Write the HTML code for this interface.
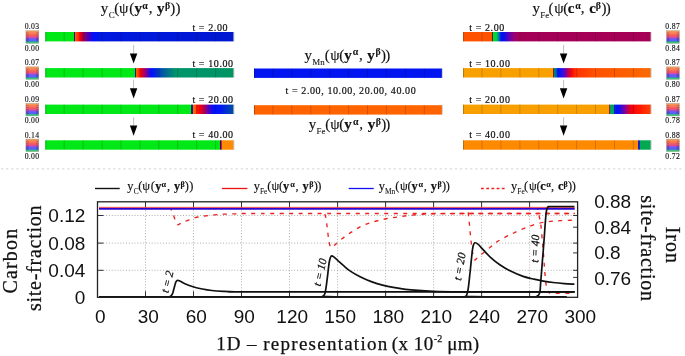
<!DOCTYPE html>
<html><head><meta charset="utf-8">
<style>
html,body{margin:0;padding:0;background:#fff;width:685px;height:356px;overflow:hidden}
svg{display:block;will-change:transform}
</style></head>
<body>

<svg width="685" height="356" viewBox="0 0 685 356">

<defs>
<linearGradient id="L0" gradientUnits="userSpaceOnUse" x1="45.3" y1="0" x2="233.6" y2="0"><stop offset="0.0000" stop-color="#00e816"/><stop offset="0.1529" stop-color="#00e816"/><stop offset="0.1535" stop-color="#1a1a9a"/><stop offset="0.1593" stop-color="#1a1a9a"/><stop offset="0.1599" stop-color="#ff5a00"/><stop offset="0.1747" stop-color="#ff3000"/><stop offset="0.1843" stop-color="#f00010"/><stop offset="0.1938" stop-color="#d00020"/><stop offset="0.2045" stop-color="#900060"/><stop offset="0.2268" stop-color="#5000b0"/><stop offset="0.2586" stop-color="#0010ff"/><stop offset="0.2905" stop-color="#0018e0"/><stop offset="1.0000" stop-color="#0018d0"/></linearGradient>
<linearGradient id="L1" gradientUnits="userSpaceOnUse" x1="45.3" y1="0" x2="233.6" y2="0"><stop offset="0.0000" stop-color="#00e816"/><stop offset="0.4764" stop-color="#00e816"/><stop offset="0.4769" stop-color="#1a1a9a"/><stop offset="0.4822" stop-color="#1a1a9a"/><stop offset="0.4827" stop-color="#ff6000"/><stop offset="0.4971" stop-color="#ff3000"/><stop offset="0.5082" stop-color="#f00010"/><stop offset="0.5189" stop-color="#c00040"/><stop offset="0.5401" stop-color="#7000a0"/><stop offset="0.5613" stop-color="#0010ff"/><stop offset="0.5810" stop-color="#0020e0"/><stop offset="0.6251" stop-color="#005aa0"/><stop offset="0.6941" stop-color="#00966a"/><stop offset="1.0000" stop-color="#009464"/></linearGradient>
<linearGradient id="L2" gradientUnits="userSpaceOnUse" x1="45.3" y1="0" x2="233.6" y2="0"><stop offset="0.0000" stop-color="#00e816"/><stop offset="0.7743" stop-color="#00e816"/><stop offset="0.7748" stop-color="#1a1a9a"/><stop offset="0.7823" stop-color="#1a1a9a"/><stop offset="0.7828" stop-color="#ff7000"/><stop offset="0.7977" stop-color="#ff5800"/><stop offset="0.8035" stop-color="#ff1a00"/><stop offset="0.8221" stop-color="#f00010"/><stop offset="0.8428" stop-color="#b00050"/><stop offset="0.8640" stop-color="#6000b0"/><stop offset="0.8922" stop-color="#0010ff"/><stop offset="0.9341" stop-color="#0018f0"/><stop offset="1.0000" stop-color="#0050a0"/></linearGradient>
<linearGradient id="L3" gradientUnits="userSpaceOnUse" x1="45.3" y1="0" x2="233.6" y2="0"><stop offset="0.0000" stop-color="#00e816"/><stop offset="0.9278" stop-color="#00e816"/><stop offset="0.9283" stop-color="#101090"/><stop offset="0.9331" stop-color="#101090"/><stop offset="0.9336" stop-color="#f01010"/><stop offset="0.9373" stop-color="#f01010"/><stop offset="0.9379" stop-color="#ff8c00"/><stop offset="1.0000" stop-color="#ff8800"/></linearGradient>
<linearGradient id="M1" gradientUnits="userSpaceOnUse" x1="254.0" y1="0" x2="442.0" y2="0"><stop offset="0.0000" stop-color="#0015f0"/><stop offset="1.0000" stop-color="#0015f0"/></linearGradient>
<linearGradient id="M2" gradientUnits="userSpaceOnUse" x1="254.0" y1="0" x2="442.0" y2="0"><stop offset="0.0000" stop-color="#ff6400"/><stop offset="1.0000" stop-color="#ff6400"/></linearGradient>
<linearGradient id="R0" gradientUnits="userSpaceOnUse" x1="463.1" y1="0" x2="650.8" y2="0"><stop offset="0.0000" stop-color="#ff5200"/><stop offset="0.1540" stop-color="#ff5200"/><stop offset="0.1545" stop-color="#502020"/><stop offset="0.1598" stop-color="#502020"/><stop offset="0.1604" stop-color="#00e020"/><stop offset="0.1785" stop-color="#00d040"/><stop offset="0.1913" stop-color="#0070c0"/><stop offset="0.2030" stop-color="#0010ff"/><stop offset="0.2142" stop-color="#0010f0"/><stop offset="0.2392" stop-color="#5000c0"/><stop offset="0.2658" stop-color="#900080"/><stop offset="0.2904" stop-color="#a50058"/><stop offset="1.0000" stop-color="#a50055"/></linearGradient>
<linearGradient id="R1" gradientUnits="userSpaceOnUse" x1="463.1" y1="0" x2="650.8" y2="0"><stop offset="0.0000" stop-color="#f8a000"/><stop offset="0.4774" stop-color="#f8a000"/><stop offset="0.4779" stop-color="#802020"/><stop offset="0.4832" stop-color="#802020"/><stop offset="0.4838" stop-color="#009070"/><stop offset="0.4997" stop-color="#0050c0"/><stop offset="0.5056" stop-color="#0010ff"/><stop offset="0.5242" stop-color="#2010f0"/><stop offset="0.5482" stop-color="#8000a0"/><stop offset="0.5733" stop-color="#f00010"/><stop offset="0.6004" stop-color="#ff3000"/><stop offset="0.7027" stop-color="#ff5000"/><stop offset="1.0000" stop-color="#fa6a00"/></linearGradient>
<linearGradient id="R2" gradientUnits="userSpaceOnUse" x1="463.1" y1="0" x2="650.8" y2="0"><stop offset="0.0000" stop-color="#f8a000"/><stop offset="0.7778" stop-color="#f8a000"/><stop offset="0.7784" stop-color="#c02020"/><stop offset="0.7848" stop-color="#3030a0"/><stop offset="0.7853" stop-color="#00a060"/><stop offset="0.8039" stop-color="#00a060"/><stop offset="0.8045" stop-color="#0030e0"/><stop offset="0.8199" stop-color="#0010ff"/><stop offset="0.8364" stop-color="#2010e0"/><stop offset="0.8625" stop-color="#8000a0"/><stop offset="0.8924" stop-color="#f00010"/><stop offset="0.9393" stop-color="#ff1800"/><stop offset="1.0000" stop-color="#ff4000"/></linearGradient>
<linearGradient id="R3" gradientUnits="userSpaceOnUse" x1="463.1" y1="0" x2="650.8" y2="0"><stop offset="0.0000" stop-color="#ff8a00"/><stop offset="0.9302" stop-color="#ff8a00"/><stop offset="0.9307" stop-color="#e02020"/><stop offset="0.9345" stop-color="#2020c0"/><stop offset="0.9414" stop-color="#2020c0"/><stop offset="0.9419" stop-color="#00a850"/><stop offset="1.0000" stop-color="#00a850"/></linearGradient>

<linearGradient id="cb" x1="0" y1="0" x2="0" y2="1">
<stop offset="0" stop-color="#f0a050"/><stop offset="0.12" stop-color="#f88c55"/><stop offset="0.25" stop-color="#fa735a"/>
<stop offset="0.38" stop-color="#f55a5f"/><stop offset="0.5" stop-color="#e1508c"/><stop offset="0.6" stop-color="#9650e1"/>
<stop offset="0.7" stop-color="#5f5afa"/><stop offset="0.8" stop-color="#5564f5"/><stop offset="0.85" stop-color="#3c8cbe"/>
<stop offset="0.9" stop-color="#3cbe78"/><stop offset="1" stop-color="#3cc864"/></linearGradient>

</defs>

<rect x="45.3" y="32.0" width="188.3" height="9.4" fill="url(#L0)"/>
<rect x="45.3" y="32.0" width="0.9" height="9.4" fill="#000" opacity="0.3"/>
<rect x="233.3" y="32.0" width="1.1" height="9.4" fill="#aaa" opacity="0.6"/>
<line x1="64.2" y1="32.0" x2="64.2" y2="41.4" stroke="#000" stroke-opacity="0.22" stroke-width="0.8"/>
<line x1="83.1" y1="32.0" x2="83.1" y2="41.4" stroke="#000" stroke-opacity="0.22" stroke-width="0.8"/>
<line x1="102.1" y1="32.0" x2="102.1" y2="41.4" stroke="#000" stroke-opacity="0.22" stroke-width="0.8"/>
<line x1="121.0" y1="32.0" x2="121.0" y2="41.4" stroke="#000" stroke-opacity="0.22" stroke-width="0.8"/>
<line x1="139.9" y1="32.0" x2="139.9" y2="41.4" stroke="#000" stroke-opacity="0.22" stroke-width="0.8"/>
<line x1="158.8" y1="32.0" x2="158.8" y2="41.4" stroke="#000" stroke-opacity="0.22" stroke-width="0.8"/>
<line x1="177.7" y1="32.0" x2="177.7" y2="41.4" stroke="#000" stroke-opacity="0.22" stroke-width="0.8"/>
<line x1="196.7" y1="32.0" x2="196.7" y2="41.4" stroke="#000" stroke-opacity="0.22" stroke-width="0.8"/>
<line x1="215.6" y1="32.0" x2="215.6" y2="41.4" stroke="#000" stroke-opacity="0.22" stroke-width="0.8"/>
<rect x="463.1" y="32.0" width="187.7" height="9.4" fill="url(#R0)"/>
<rect x="463.1" y="32.0" width="0.9" height="9.4" fill="#000" opacity="0.3"/>
<rect x="650.5" y="32.0" width="1.1" height="9.4" fill="#aaa" opacity="0.6"/>
<line x1="482.0" y1="32.0" x2="482.0" y2="41.4" stroke="#000" stroke-opacity="0.22" stroke-width="0.8"/>
<line x1="500.9" y1="32.0" x2="500.9" y2="41.4" stroke="#000" stroke-opacity="0.22" stroke-width="0.8"/>
<line x1="519.9" y1="32.0" x2="519.9" y2="41.4" stroke="#000" stroke-opacity="0.22" stroke-width="0.8"/>
<line x1="538.8" y1="32.0" x2="538.8" y2="41.4" stroke="#000" stroke-opacity="0.22" stroke-width="0.8"/>
<line x1="557.7" y1="32.0" x2="557.7" y2="41.4" stroke="#000" stroke-opacity="0.22" stroke-width="0.8"/>
<line x1="576.6" y1="32.0" x2="576.6" y2="41.4" stroke="#000" stroke-opacity="0.22" stroke-width="0.8"/>
<line x1="595.5" y1="32.0" x2="595.5" y2="41.4" stroke="#000" stroke-opacity="0.22" stroke-width="0.8"/>
<line x1="614.5" y1="32.0" x2="614.5" y2="41.4" stroke="#000" stroke-opacity="0.22" stroke-width="0.8"/>
<line x1="633.4" y1="32.0" x2="633.4" y2="41.4" stroke="#000" stroke-opacity="0.22" stroke-width="0.8"/>
<rect x="45.3" y="68.1" width="188.3" height="9.4" fill="url(#L1)"/>
<rect x="45.3" y="68.1" width="0.9" height="9.4" fill="#000" opacity="0.3"/>
<rect x="233.3" y="68.1" width="1.1" height="9.4" fill="#aaa" opacity="0.6"/>
<line x1="64.2" y1="68.1" x2="64.2" y2="77.5" stroke="#000" stroke-opacity="0.22" stroke-width="0.8"/>
<line x1="83.1" y1="68.1" x2="83.1" y2="77.5" stroke="#000" stroke-opacity="0.22" stroke-width="0.8"/>
<line x1="102.1" y1="68.1" x2="102.1" y2="77.5" stroke="#000" stroke-opacity="0.22" stroke-width="0.8"/>
<line x1="121.0" y1="68.1" x2="121.0" y2="77.5" stroke="#000" stroke-opacity="0.22" stroke-width="0.8"/>
<line x1="139.9" y1="68.1" x2="139.9" y2="77.5" stroke="#000" stroke-opacity="0.22" stroke-width="0.8"/>
<line x1="158.8" y1="68.1" x2="158.8" y2="77.5" stroke="#000" stroke-opacity="0.22" stroke-width="0.8"/>
<line x1="177.7" y1="68.1" x2="177.7" y2="77.5" stroke="#000" stroke-opacity="0.22" stroke-width="0.8"/>
<line x1="196.7" y1="68.1" x2="196.7" y2="77.5" stroke="#000" stroke-opacity="0.22" stroke-width="0.8"/>
<line x1="215.6" y1="68.1" x2="215.6" y2="77.5" stroke="#000" stroke-opacity="0.22" stroke-width="0.8"/>
<rect x="463.1" y="68.1" width="187.7" height="9.4" fill="url(#R1)"/>
<rect x="463.1" y="68.1" width="0.9" height="9.4" fill="#000" opacity="0.3"/>
<rect x="650.5" y="68.1" width="1.1" height="9.4" fill="#aaa" opacity="0.6"/>
<line x1="482.0" y1="68.1" x2="482.0" y2="77.5" stroke="#000" stroke-opacity="0.22" stroke-width="0.8"/>
<line x1="500.9" y1="68.1" x2="500.9" y2="77.5" stroke="#000" stroke-opacity="0.22" stroke-width="0.8"/>
<line x1="519.9" y1="68.1" x2="519.9" y2="77.5" stroke="#000" stroke-opacity="0.22" stroke-width="0.8"/>
<line x1="538.8" y1="68.1" x2="538.8" y2="77.5" stroke="#000" stroke-opacity="0.22" stroke-width="0.8"/>
<line x1="557.7" y1="68.1" x2="557.7" y2="77.5" stroke="#000" stroke-opacity="0.22" stroke-width="0.8"/>
<line x1="576.6" y1="68.1" x2="576.6" y2="77.5" stroke="#000" stroke-opacity="0.22" stroke-width="0.8"/>
<line x1="595.5" y1="68.1" x2="595.5" y2="77.5" stroke="#000" stroke-opacity="0.22" stroke-width="0.8"/>
<line x1="614.5" y1="68.1" x2="614.5" y2="77.5" stroke="#000" stroke-opacity="0.22" stroke-width="0.8"/>
<line x1="633.4" y1="68.1" x2="633.4" y2="77.5" stroke="#000" stroke-opacity="0.22" stroke-width="0.8"/>
<rect x="45.3" y="104.6" width="188.3" height="9.4" fill="url(#L2)"/>
<rect x="45.3" y="104.6" width="0.9" height="9.4" fill="#000" opacity="0.3"/>
<rect x="233.3" y="104.6" width="1.1" height="9.4" fill="#aaa" opacity="0.6"/>
<line x1="64.2" y1="104.6" x2="64.2" y2="114.0" stroke="#000" stroke-opacity="0.22" stroke-width="0.8"/>
<line x1="83.1" y1="104.6" x2="83.1" y2="114.0" stroke="#000" stroke-opacity="0.22" stroke-width="0.8"/>
<line x1="102.1" y1="104.6" x2="102.1" y2="114.0" stroke="#000" stroke-opacity="0.22" stroke-width="0.8"/>
<line x1="121.0" y1="104.6" x2="121.0" y2="114.0" stroke="#000" stroke-opacity="0.22" stroke-width="0.8"/>
<line x1="139.9" y1="104.6" x2="139.9" y2="114.0" stroke="#000" stroke-opacity="0.22" stroke-width="0.8"/>
<line x1="158.8" y1="104.6" x2="158.8" y2="114.0" stroke="#000" stroke-opacity="0.22" stroke-width="0.8"/>
<line x1="177.7" y1="104.6" x2="177.7" y2="114.0" stroke="#000" stroke-opacity="0.22" stroke-width="0.8"/>
<line x1="196.7" y1="104.6" x2="196.7" y2="114.0" stroke="#000" stroke-opacity="0.22" stroke-width="0.8"/>
<line x1="215.6" y1="104.6" x2="215.6" y2="114.0" stroke="#000" stroke-opacity="0.22" stroke-width="0.8"/>
<rect x="463.1" y="104.6" width="187.7" height="9.4" fill="url(#R2)"/>
<rect x="463.1" y="104.6" width="0.9" height="9.4" fill="#000" opacity="0.3"/>
<rect x="650.5" y="104.6" width="1.1" height="9.4" fill="#aaa" opacity="0.6"/>
<line x1="482.0" y1="104.6" x2="482.0" y2="114.0" stroke="#000" stroke-opacity="0.22" stroke-width="0.8"/>
<line x1="500.9" y1="104.6" x2="500.9" y2="114.0" stroke="#000" stroke-opacity="0.22" stroke-width="0.8"/>
<line x1="519.9" y1="104.6" x2="519.9" y2="114.0" stroke="#000" stroke-opacity="0.22" stroke-width="0.8"/>
<line x1="538.8" y1="104.6" x2="538.8" y2="114.0" stroke="#000" stroke-opacity="0.22" stroke-width="0.8"/>
<line x1="557.7" y1="104.6" x2="557.7" y2="114.0" stroke="#000" stroke-opacity="0.22" stroke-width="0.8"/>
<line x1="576.6" y1="104.6" x2="576.6" y2="114.0" stroke="#000" stroke-opacity="0.22" stroke-width="0.8"/>
<line x1="595.5" y1="104.6" x2="595.5" y2="114.0" stroke="#000" stroke-opacity="0.22" stroke-width="0.8"/>
<line x1="614.5" y1="104.6" x2="614.5" y2="114.0" stroke="#000" stroke-opacity="0.22" stroke-width="0.8"/>
<line x1="633.4" y1="104.6" x2="633.4" y2="114.0" stroke="#000" stroke-opacity="0.22" stroke-width="0.8"/>
<rect x="45.3" y="140.3" width="188.3" height="9.4" fill="url(#L3)"/>
<rect x="45.3" y="140.3" width="0.9" height="9.4" fill="#000" opacity="0.3"/>
<rect x="233.3" y="140.3" width="1.1" height="9.4" fill="#aaa" opacity="0.6"/>
<line x1="64.2" y1="140.3" x2="64.2" y2="149.70000000000002" stroke="#000" stroke-opacity="0.22" stroke-width="0.8"/>
<line x1="83.1" y1="140.3" x2="83.1" y2="149.70000000000002" stroke="#000" stroke-opacity="0.22" stroke-width="0.8"/>
<line x1="102.1" y1="140.3" x2="102.1" y2="149.70000000000002" stroke="#000" stroke-opacity="0.22" stroke-width="0.8"/>
<line x1="121.0" y1="140.3" x2="121.0" y2="149.70000000000002" stroke="#000" stroke-opacity="0.22" stroke-width="0.8"/>
<line x1="139.9" y1="140.3" x2="139.9" y2="149.70000000000002" stroke="#000" stroke-opacity="0.22" stroke-width="0.8"/>
<line x1="158.8" y1="140.3" x2="158.8" y2="149.70000000000002" stroke="#000" stroke-opacity="0.22" stroke-width="0.8"/>
<line x1="177.7" y1="140.3" x2="177.7" y2="149.70000000000002" stroke="#000" stroke-opacity="0.22" stroke-width="0.8"/>
<line x1="196.7" y1="140.3" x2="196.7" y2="149.70000000000002" stroke="#000" stroke-opacity="0.22" stroke-width="0.8"/>
<line x1="215.6" y1="140.3" x2="215.6" y2="149.70000000000002" stroke="#000" stroke-opacity="0.22" stroke-width="0.8"/>
<rect x="463.1" y="140.3" width="187.7" height="9.4" fill="url(#R3)"/>
<rect x="463.1" y="140.3" width="0.9" height="9.4" fill="#000" opacity="0.3"/>
<rect x="650.5" y="140.3" width="1.1" height="9.4" fill="#aaa" opacity="0.6"/>
<line x1="482.0" y1="140.3" x2="482.0" y2="149.70000000000002" stroke="#000" stroke-opacity="0.22" stroke-width="0.8"/>
<line x1="500.9" y1="140.3" x2="500.9" y2="149.70000000000002" stroke="#000" stroke-opacity="0.22" stroke-width="0.8"/>
<line x1="519.9" y1="140.3" x2="519.9" y2="149.70000000000002" stroke="#000" stroke-opacity="0.22" stroke-width="0.8"/>
<line x1="538.8" y1="140.3" x2="538.8" y2="149.70000000000002" stroke="#000" stroke-opacity="0.22" stroke-width="0.8"/>
<line x1="557.7" y1="140.3" x2="557.7" y2="149.70000000000002" stroke="#000" stroke-opacity="0.22" stroke-width="0.8"/>
<line x1="576.6" y1="140.3" x2="576.6" y2="149.70000000000002" stroke="#000" stroke-opacity="0.22" stroke-width="0.8"/>
<line x1="595.5" y1="140.3" x2="595.5" y2="149.70000000000002" stroke="#000" stroke-opacity="0.22" stroke-width="0.8"/>
<line x1="614.5" y1="140.3" x2="614.5" y2="149.70000000000002" stroke="#000" stroke-opacity="0.22" stroke-width="0.8"/>
<line x1="633.4" y1="140.3" x2="633.4" y2="149.70000000000002" stroke="#000" stroke-opacity="0.22" stroke-width="0.8"/>
<rect x="254.0" y="68.5" width="188.0" height="9.4" fill="url(#M1)"/>
<rect x="254.0" y="68.5" width="0.9" height="9.4" fill="#000" opacity="0.3"/>
<rect x="441.7" y="68.5" width="1.1" height="9.4" fill="#aaa" opacity="0.6"/>
<line x1="272.9" y1="68.5" x2="272.9" y2="77.9" stroke="#000" stroke-opacity="0.22" stroke-width="0.8"/>
<line x1="291.8" y1="68.5" x2="291.8" y2="77.9" stroke="#000" stroke-opacity="0.22" stroke-width="0.8"/>
<line x1="310.8" y1="68.5" x2="310.8" y2="77.9" stroke="#000" stroke-opacity="0.22" stroke-width="0.8"/>
<line x1="329.7" y1="68.5" x2="329.7" y2="77.9" stroke="#000" stroke-opacity="0.22" stroke-width="0.8"/>
<line x1="348.6" y1="68.5" x2="348.6" y2="77.9" stroke="#000" stroke-opacity="0.22" stroke-width="0.8"/>
<line x1="367.5" y1="68.5" x2="367.5" y2="77.9" stroke="#000" stroke-opacity="0.22" stroke-width="0.8"/>
<line x1="386.4" y1="68.5" x2="386.4" y2="77.9" stroke="#000" stroke-opacity="0.22" stroke-width="0.8"/>
<line x1="405.4" y1="68.5" x2="405.4" y2="77.9" stroke="#000" stroke-opacity="0.22" stroke-width="0.8"/>
<line x1="424.3" y1="68.5" x2="424.3" y2="77.9" stroke="#000" stroke-opacity="0.22" stroke-width="0.8"/>
<rect x="254.0" y="105.19999999999999" width="188.0" height="9.4" fill="url(#M2)"/>
<rect x="254.0" y="105.19999999999999" width="0.9" height="9.4" fill="#000" opacity="0.3"/>
<rect x="441.7" y="105.19999999999999" width="1.1" height="9.4" fill="#aaa" opacity="0.6"/>
<line x1="272.9" y1="105.19999999999999" x2="272.9" y2="114.6" stroke="#000" stroke-opacity="0.22" stroke-width="0.8"/>
<line x1="291.8" y1="105.19999999999999" x2="291.8" y2="114.6" stroke="#000" stroke-opacity="0.22" stroke-width="0.8"/>
<line x1="310.8" y1="105.19999999999999" x2="310.8" y2="114.6" stroke="#000" stroke-opacity="0.22" stroke-width="0.8"/>
<line x1="329.7" y1="105.19999999999999" x2="329.7" y2="114.6" stroke="#000" stroke-opacity="0.22" stroke-width="0.8"/>
<line x1="348.6" y1="105.19999999999999" x2="348.6" y2="114.6" stroke="#000" stroke-opacity="0.22" stroke-width="0.8"/>
<line x1="367.5" y1="105.19999999999999" x2="367.5" y2="114.6" stroke="#000" stroke-opacity="0.22" stroke-width="0.8"/>
<line x1="386.4" y1="105.19999999999999" x2="386.4" y2="114.6" stroke="#000" stroke-opacity="0.22" stroke-width="0.8"/>
<line x1="405.4" y1="105.19999999999999" x2="405.4" y2="114.6" stroke="#000" stroke-opacity="0.22" stroke-width="0.8"/>
<line x1="424.3" y1="105.19999999999999" x2="424.3" y2="114.6" stroke="#000" stroke-opacity="0.22" stroke-width="0.8"/>
<rect x="25.9" y="30.75" width="12.9" height="12.6" fill="url(#cb)" stroke="#999" stroke-width="0.4"/>
<line x1="25.9" y1="32.9" x2="28.7" y2="32.9" stroke="#000" stroke-opacity="0.35" stroke-width="0.6"/>
<line x1="36.0" y1="32.9" x2="38.8" y2="32.9" stroke="#000" stroke-opacity="0.35" stroke-width="0.6"/>
<line x1="25.9" y1="34.9" x2="28.7" y2="34.9" stroke="#000" stroke-opacity="0.35" stroke-width="0.6"/>
<line x1="36.0" y1="34.9" x2="38.8" y2="34.9" stroke="#000" stroke-opacity="0.35" stroke-width="0.6"/>
<line x1="25.9" y1="36.9" x2="28.7" y2="36.9" stroke="#000" stroke-opacity="0.35" stroke-width="0.6"/>
<line x1="36.0" y1="36.9" x2="38.8" y2="36.9" stroke="#000" stroke-opacity="0.35" stroke-width="0.6"/>
<line x1="25.9" y1="38.5" x2="28.7" y2="38.5" stroke="#000" stroke-opacity="0.35" stroke-width="0.6"/>
<line x1="36.0" y1="38.5" x2="38.8" y2="38.5" stroke="#000" stroke-opacity="0.35" stroke-width="0.6"/>
<line x1="25.9" y1="39.7" x2="28.7" y2="39.7" stroke="#000" stroke-opacity="0.35" stroke-width="0.6"/>
<line x1="36.0" y1="39.7" x2="38.8" y2="39.7" stroke="#000" stroke-opacity="0.35" stroke-width="0.6"/>
<line x1="25.9" y1="41.0" x2="28.7" y2="41.0" stroke="#000" stroke-opacity="0.35" stroke-width="0.6"/>
<line x1="36.0" y1="41.0" x2="38.8" y2="41.0" stroke="#000" stroke-opacity="0.35" stroke-width="0.6"/>
<text x="32.1" y="29.2" font-family="Liberation Serif, serif" font-size="7.7" letter-spacing="0.35" text-anchor="middle" fill="#111" stroke="#111" stroke-width="0.14">0.03</text>
<text x="32.1" y="50.5" font-family="Liberation Serif, serif" font-size="7.7" letter-spacing="0.35" text-anchor="middle" fill="#111" stroke="#111" stroke-width="0.14">0.00</text>
<rect x="666.5" y="30.75" width="12.9" height="12.6" fill="url(#cb)" stroke="#999" stroke-width="0.4"/>
<line x1="666.5" y1="32.9" x2="669.3" y2="32.9" stroke="#000" stroke-opacity="0.35" stroke-width="0.6"/>
<line x1="676.6" y1="32.9" x2="679.4" y2="32.9" stroke="#000" stroke-opacity="0.35" stroke-width="0.6"/>
<line x1="666.5" y1="34.9" x2="669.3" y2="34.9" stroke="#000" stroke-opacity="0.35" stroke-width="0.6"/>
<line x1="676.6" y1="34.9" x2="679.4" y2="34.9" stroke="#000" stroke-opacity="0.35" stroke-width="0.6"/>
<line x1="666.5" y1="36.9" x2="669.3" y2="36.9" stroke="#000" stroke-opacity="0.35" stroke-width="0.6"/>
<line x1="676.6" y1="36.9" x2="679.4" y2="36.9" stroke="#000" stroke-opacity="0.35" stroke-width="0.6"/>
<line x1="666.5" y1="38.5" x2="669.3" y2="38.5" stroke="#000" stroke-opacity="0.35" stroke-width="0.6"/>
<line x1="676.6" y1="38.5" x2="679.4" y2="38.5" stroke="#000" stroke-opacity="0.35" stroke-width="0.6"/>
<line x1="666.5" y1="39.7" x2="669.3" y2="39.7" stroke="#000" stroke-opacity="0.35" stroke-width="0.6"/>
<line x1="676.6" y1="39.7" x2="679.4" y2="39.7" stroke="#000" stroke-opacity="0.35" stroke-width="0.6"/>
<line x1="666.5" y1="41.0" x2="669.3" y2="41.0" stroke="#000" stroke-opacity="0.35" stroke-width="0.6"/>
<line x1="676.6" y1="41.0" x2="679.4" y2="41.0" stroke="#000" stroke-opacity="0.35" stroke-width="0.6"/>
<text x="672.7" y="29.2" font-family="Liberation Serif, serif" font-size="7.7" letter-spacing="0.35" text-anchor="middle" fill="#111" stroke="#111" stroke-width="0.14">0.87</text>
<text x="672.7" y="50.5" font-family="Liberation Serif, serif" font-size="7.7" letter-spacing="0.35" text-anchor="middle" fill="#111" stroke="#111" stroke-width="0.14">0.84</text>
<rect x="25.9" y="66.85" width="12.9" height="12.6" fill="url(#cb)" stroke="#999" stroke-width="0.4"/>
<line x1="25.9" y1="69.0" x2="28.7" y2="69.0" stroke="#000" stroke-opacity="0.35" stroke-width="0.6"/>
<line x1="36.0" y1="69.0" x2="38.8" y2="69.0" stroke="#000" stroke-opacity="0.35" stroke-width="0.6"/>
<line x1="25.9" y1="71.0" x2="28.7" y2="71.0" stroke="#000" stroke-opacity="0.35" stroke-width="0.6"/>
<line x1="36.0" y1="71.0" x2="38.8" y2="71.0" stroke="#000" stroke-opacity="0.35" stroke-width="0.6"/>
<line x1="25.9" y1="73.0" x2="28.7" y2="73.0" stroke="#000" stroke-opacity="0.35" stroke-width="0.6"/>
<line x1="36.0" y1="73.0" x2="38.8" y2="73.0" stroke="#000" stroke-opacity="0.35" stroke-width="0.6"/>
<line x1="25.9" y1="74.6" x2="28.7" y2="74.6" stroke="#000" stroke-opacity="0.35" stroke-width="0.6"/>
<line x1="36.0" y1="74.6" x2="38.8" y2="74.6" stroke="#000" stroke-opacity="0.35" stroke-width="0.6"/>
<line x1="25.9" y1="75.8" x2="28.7" y2="75.8" stroke="#000" stroke-opacity="0.35" stroke-width="0.6"/>
<line x1="36.0" y1="75.8" x2="38.8" y2="75.8" stroke="#000" stroke-opacity="0.35" stroke-width="0.6"/>
<line x1="25.9" y1="77.1" x2="28.7" y2="77.1" stroke="#000" stroke-opacity="0.35" stroke-width="0.6"/>
<line x1="36.0" y1="77.1" x2="38.8" y2="77.1" stroke="#000" stroke-opacity="0.35" stroke-width="0.6"/>
<text x="32.1" y="65.3" font-family="Liberation Serif, serif" font-size="7.7" letter-spacing="0.35" text-anchor="middle" fill="#111" stroke="#111" stroke-width="0.14">0.07</text>
<text x="32.1" y="86.5" font-family="Liberation Serif, serif" font-size="7.7" letter-spacing="0.35" text-anchor="middle" fill="#111" stroke="#111" stroke-width="0.14">0.00</text>
<rect x="666.5" y="66.85" width="12.9" height="12.6" fill="url(#cb)" stroke="#999" stroke-width="0.4"/>
<line x1="666.5" y1="69.0" x2="669.3" y2="69.0" stroke="#000" stroke-opacity="0.35" stroke-width="0.6"/>
<line x1="676.6" y1="69.0" x2="679.4" y2="69.0" stroke="#000" stroke-opacity="0.35" stroke-width="0.6"/>
<line x1="666.5" y1="71.0" x2="669.3" y2="71.0" stroke="#000" stroke-opacity="0.35" stroke-width="0.6"/>
<line x1="676.6" y1="71.0" x2="679.4" y2="71.0" stroke="#000" stroke-opacity="0.35" stroke-width="0.6"/>
<line x1="666.5" y1="73.0" x2="669.3" y2="73.0" stroke="#000" stroke-opacity="0.35" stroke-width="0.6"/>
<line x1="676.6" y1="73.0" x2="679.4" y2="73.0" stroke="#000" stroke-opacity="0.35" stroke-width="0.6"/>
<line x1="666.5" y1="74.6" x2="669.3" y2="74.6" stroke="#000" stroke-opacity="0.35" stroke-width="0.6"/>
<line x1="676.6" y1="74.6" x2="679.4" y2="74.6" stroke="#000" stroke-opacity="0.35" stroke-width="0.6"/>
<line x1="666.5" y1="75.8" x2="669.3" y2="75.8" stroke="#000" stroke-opacity="0.35" stroke-width="0.6"/>
<line x1="676.6" y1="75.8" x2="679.4" y2="75.8" stroke="#000" stroke-opacity="0.35" stroke-width="0.6"/>
<line x1="666.5" y1="77.1" x2="669.3" y2="77.1" stroke="#000" stroke-opacity="0.35" stroke-width="0.6"/>
<line x1="676.6" y1="77.1" x2="679.4" y2="77.1" stroke="#000" stroke-opacity="0.35" stroke-width="0.6"/>
<text x="672.7" y="65.3" font-family="Liberation Serif, serif" font-size="7.7" letter-spacing="0.35" text-anchor="middle" fill="#111" stroke="#111" stroke-width="0.14">0.87</text>
<text x="672.7" y="86.5" font-family="Liberation Serif, serif" font-size="7.7" letter-spacing="0.35" text-anchor="middle" fill="#111" stroke="#111" stroke-width="0.14">0.80</text>
<rect x="25.9" y="103.35" width="12.9" height="12.6" fill="url(#cb)" stroke="#999" stroke-width="0.4"/>
<line x1="25.9" y1="105.5" x2="28.7" y2="105.5" stroke="#000" stroke-opacity="0.35" stroke-width="0.6"/>
<line x1="36.0" y1="105.5" x2="38.8" y2="105.5" stroke="#000" stroke-opacity="0.35" stroke-width="0.6"/>
<line x1="25.9" y1="107.5" x2="28.7" y2="107.5" stroke="#000" stroke-opacity="0.35" stroke-width="0.6"/>
<line x1="36.0" y1="107.5" x2="38.8" y2="107.5" stroke="#000" stroke-opacity="0.35" stroke-width="0.6"/>
<line x1="25.9" y1="109.5" x2="28.7" y2="109.5" stroke="#000" stroke-opacity="0.35" stroke-width="0.6"/>
<line x1="36.0" y1="109.5" x2="38.8" y2="109.5" stroke="#000" stroke-opacity="0.35" stroke-width="0.6"/>
<line x1="25.9" y1="111.1" x2="28.7" y2="111.1" stroke="#000" stroke-opacity="0.35" stroke-width="0.6"/>
<line x1="36.0" y1="111.1" x2="38.8" y2="111.1" stroke="#000" stroke-opacity="0.35" stroke-width="0.6"/>
<line x1="25.9" y1="112.3" x2="28.7" y2="112.3" stroke="#000" stroke-opacity="0.35" stroke-width="0.6"/>
<line x1="36.0" y1="112.3" x2="38.8" y2="112.3" stroke="#000" stroke-opacity="0.35" stroke-width="0.6"/>
<line x1="25.9" y1="113.6" x2="28.7" y2="113.6" stroke="#000" stroke-opacity="0.35" stroke-width="0.6"/>
<line x1="36.0" y1="113.6" x2="38.8" y2="113.6" stroke="#000" stroke-opacity="0.35" stroke-width="0.6"/>
<text x="32.1" y="101.8" font-family="Liberation Serif, serif" font-size="7.7" letter-spacing="0.35" text-anchor="middle" fill="#111" stroke="#111" stroke-width="0.14">0.09</text>
<text x="32.1" y="123.0" font-family="Liberation Serif, serif" font-size="7.7" letter-spacing="0.35" text-anchor="middle" fill="#111" stroke="#111" stroke-width="0.14">0.00</text>
<rect x="666.5" y="103.35" width="12.9" height="12.6" fill="url(#cb)" stroke="#999" stroke-width="0.4"/>
<line x1="666.5" y1="105.5" x2="669.3" y2="105.5" stroke="#000" stroke-opacity="0.35" stroke-width="0.6"/>
<line x1="676.6" y1="105.5" x2="679.4" y2="105.5" stroke="#000" stroke-opacity="0.35" stroke-width="0.6"/>
<line x1="666.5" y1="107.5" x2="669.3" y2="107.5" stroke="#000" stroke-opacity="0.35" stroke-width="0.6"/>
<line x1="676.6" y1="107.5" x2="679.4" y2="107.5" stroke="#000" stroke-opacity="0.35" stroke-width="0.6"/>
<line x1="666.5" y1="109.5" x2="669.3" y2="109.5" stroke="#000" stroke-opacity="0.35" stroke-width="0.6"/>
<line x1="676.6" y1="109.5" x2="679.4" y2="109.5" stroke="#000" stroke-opacity="0.35" stroke-width="0.6"/>
<line x1="666.5" y1="111.1" x2="669.3" y2="111.1" stroke="#000" stroke-opacity="0.35" stroke-width="0.6"/>
<line x1="676.6" y1="111.1" x2="679.4" y2="111.1" stroke="#000" stroke-opacity="0.35" stroke-width="0.6"/>
<line x1="666.5" y1="112.3" x2="669.3" y2="112.3" stroke="#000" stroke-opacity="0.35" stroke-width="0.6"/>
<line x1="676.6" y1="112.3" x2="679.4" y2="112.3" stroke="#000" stroke-opacity="0.35" stroke-width="0.6"/>
<line x1="666.5" y1="113.6" x2="669.3" y2="113.6" stroke="#000" stroke-opacity="0.35" stroke-width="0.6"/>
<line x1="676.6" y1="113.6" x2="679.4" y2="113.6" stroke="#000" stroke-opacity="0.35" stroke-width="0.6"/>
<text x="672.7" y="101.8" font-family="Liberation Serif, serif" font-size="7.7" letter-spacing="0.35" text-anchor="middle" fill="#111" stroke="#111" stroke-width="0.14">0.87</text>
<text x="672.7" y="123.0" font-family="Liberation Serif, serif" font-size="7.7" letter-spacing="0.35" text-anchor="middle" fill="#111" stroke="#111" stroke-width="0.14">0.78</text>
<rect x="25.9" y="139.05" width="12.9" height="12.6" fill="url(#cb)" stroke="#999" stroke-width="0.4"/>
<line x1="25.9" y1="141.2" x2="28.7" y2="141.2" stroke="#000" stroke-opacity="0.35" stroke-width="0.6"/>
<line x1="36.0" y1="141.2" x2="38.8" y2="141.2" stroke="#000" stroke-opacity="0.35" stroke-width="0.6"/>
<line x1="25.9" y1="143.2" x2="28.7" y2="143.2" stroke="#000" stroke-opacity="0.35" stroke-width="0.6"/>
<line x1="36.0" y1="143.2" x2="38.8" y2="143.2" stroke="#000" stroke-opacity="0.35" stroke-width="0.6"/>
<line x1="25.9" y1="145.2" x2="28.7" y2="145.2" stroke="#000" stroke-opacity="0.35" stroke-width="0.6"/>
<line x1="36.0" y1="145.2" x2="38.8" y2="145.2" stroke="#000" stroke-opacity="0.35" stroke-width="0.6"/>
<line x1="25.9" y1="146.8" x2="28.7" y2="146.8" stroke="#000" stroke-opacity="0.35" stroke-width="0.6"/>
<line x1="36.0" y1="146.8" x2="38.8" y2="146.8" stroke="#000" stroke-opacity="0.35" stroke-width="0.6"/>
<line x1="25.9" y1="148.0" x2="28.7" y2="148.0" stroke="#000" stroke-opacity="0.35" stroke-width="0.6"/>
<line x1="36.0" y1="148.0" x2="38.8" y2="148.0" stroke="#000" stroke-opacity="0.35" stroke-width="0.6"/>
<line x1="25.9" y1="149.3" x2="28.7" y2="149.3" stroke="#000" stroke-opacity="0.35" stroke-width="0.6"/>
<line x1="36.0" y1="149.3" x2="38.8" y2="149.3" stroke="#000" stroke-opacity="0.35" stroke-width="0.6"/>
<text x="32.1" y="137.6" font-family="Liberation Serif, serif" font-size="7.7" letter-spacing="0.35" text-anchor="middle" fill="#111" stroke="#111" stroke-width="0.14">0.14</text>
<text x="32.1" y="158.8" font-family="Liberation Serif, serif" font-size="7.7" letter-spacing="0.35" text-anchor="middle" fill="#111" stroke="#111" stroke-width="0.14">0.00</text>
<rect x="666.5" y="139.05" width="12.9" height="12.6" fill="url(#cb)" stroke="#999" stroke-width="0.4"/>
<line x1="666.5" y1="141.2" x2="669.3" y2="141.2" stroke="#000" stroke-opacity="0.35" stroke-width="0.6"/>
<line x1="676.6" y1="141.2" x2="679.4" y2="141.2" stroke="#000" stroke-opacity="0.35" stroke-width="0.6"/>
<line x1="666.5" y1="143.2" x2="669.3" y2="143.2" stroke="#000" stroke-opacity="0.35" stroke-width="0.6"/>
<line x1="676.6" y1="143.2" x2="679.4" y2="143.2" stroke="#000" stroke-opacity="0.35" stroke-width="0.6"/>
<line x1="666.5" y1="145.2" x2="669.3" y2="145.2" stroke="#000" stroke-opacity="0.35" stroke-width="0.6"/>
<line x1="676.6" y1="145.2" x2="679.4" y2="145.2" stroke="#000" stroke-opacity="0.35" stroke-width="0.6"/>
<line x1="666.5" y1="146.8" x2="669.3" y2="146.8" stroke="#000" stroke-opacity="0.35" stroke-width="0.6"/>
<line x1="676.6" y1="146.8" x2="679.4" y2="146.8" stroke="#000" stroke-opacity="0.35" stroke-width="0.6"/>
<line x1="666.5" y1="148.0" x2="669.3" y2="148.0" stroke="#000" stroke-opacity="0.35" stroke-width="0.6"/>
<line x1="676.6" y1="148.0" x2="679.4" y2="148.0" stroke="#000" stroke-opacity="0.35" stroke-width="0.6"/>
<line x1="666.5" y1="149.3" x2="669.3" y2="149.3" stroke="#000" stroke-opacity="0.35" stroke-width="0.6"/>
<line x1="676.6" y1="149.3" x2="679.4" y2="149.3" stroke="#000" stroke-opacity="0.35" stroke-width="0.6"/>
<text x="672.7" y="137.6" font-family="Liberation Serif, serif" font-size="7.7" letter-spacing="0.35" text-anchor="middle" fill="#111" stroke="#111" stroke-width="0.14">0.88</text>
<text x="672.7" y="158.8" font-family="Liberation Serif, serif" font-size="7.7" letter-spacing="0.35" text-anchor="middle" fill="#111" stroke="#111" stroke-width="0.14">0.72</text>
<line x1="133.6" y1="45" x2="133.6" y2="53.5" stroke="#b0b0b0" stroke-width="0.8"/>
<path d="M129.9,53.5 L137.3,53.5 L133.6,63.6 Z" fill="#000"/>
<line x1="563.6" y1="45" x2="563.6" y2="53.5" stroke="#b0b0b0" stroke-width="0.8"/>
<path d="M559.9,53.5 L567.3,53.5 L563.6,63.6 Z" fill="#000"/>
<line x1="133.6" y1="79.8" x2="133.6" y2="88.3" stroke="#b0b0b0" stroke-width="0.8"/>
<path d="M129.9,88.3 L137.3,88.3 L133.6,98.4 Z" fill="#000"/>
<line x1="563.6" y1="79.8" x2="563.6" y2="88.3" stroke="#b0b0b0" stroke-width="0.8"/>
<path d="M559.9,88.3 L567.3,88.3 L563.6,98.4 Z" fill="#000"/>
<line x1="133.6" y1="117.2" x2="133.6" y2="125.5" stroke="#b0b0b0" stroke-width="0.8"/>
<path d="M129.9,125.5 L137.3,125.5 L133.6,135.8 Z" fill="#000"/>
<line x1="563.6" y1="117.2" x2="563.6" y2="125.5" stroke="#b0b0b0" stroke-width="0.8"/>
<path d="M559.9,125.5 L567.3,125.5 L563.6,135.8 Z" fill="#000"/>
<text x="192.4" y="31.0" font-family="Liberation Serif, serif" font-size="10" letter-spacing="0.6" fill="#111" stroke="#111" stroke-width="0.2">t = 2.00</text>
<text x="469.2" y="31.0" font-family="Liberation Serif, serif" font-size="10" letter-spacing="0.6" fill="#111" stroke="#111" stroke-width="0.2">t = 2.00</text>
<text x="192.4" y="66.8" font-family="Liberation Serif, serif" font-size="10" letter-spacing="0.6" fill="#111" stroke="#111" stroke-width="0.2">t = 10.00</text>
<text x="469.2" y="66.8" font-family="Liberation Serif, serif" font-size="10" letter-spacing="0.6" fill="#111" stroke="#111" stroke-width="0.2">t = 10.00</text>
<text x="192.4" y="102.9" font-family="Liberation Serif, serif" font-size="10" letter-spacing="0.6" fill="#111" stroke="#111" stroke-width="0.2">t = 20.00</text>
<text x="469.2" y="102.9" font-family="Liberation Serif, serif" font-size="10" letter-spacing="0.6" fill="#111" stroke="#111" stroke-width="0.2">t = 20.00</text>
<text x="192.4" y="138.0" font-family="Liberation Serif, serif" font-size="10" letter-spacing="0.6" fill="#111" stroke="#111" stroke-width="0.2">t = 40.00</text>
<text x="469.2" y="138.0" font-family="Liberation Serif, serif" font-size="10" letter-spacing="0.6" fill="#111" stroke="#111" stroke-width="0.2">t = 40.00</text>
<text x="285.5" y="93.9" font-family="Liberation Serif, serif" font-size="10" letter-spacing="0.6" fill="#111" stroke="#111" stroke-width="0.2">t = 2.00, 10.00, 20.00, 40.00</text>
<text font-family="Liberation Serif, serif" fill="#111" stroke="#111"><tspan x="100.72" y="12.80" font-size="15" stroke-width="0.15">y</tspan><tspan x="108.63" y="17.60" font-size="8.924999999999999" stroke-width="0.08">C</tspan><tspan x="114.14" y="12.80" font-size="15" stroke-width="0.15">(</tspan><tspan x="119.01" y="12.80" font-size="15" stroke-width="0.15">ψ</tspan><tspan x="129.14" y="12.80" font-size="15" stroke-width="0.15">(</tspan><tspan x="134.45" y="12.80" font-size="15" font-weight="bold" stroke-width="0.20">y</tspan><tspan x="142.23" y="8.50" font-size="9.9" font-weight="bold" stroke-width="0.10">α</tspan><tspan x="148.63" y="12.80" font-size="15" stroke-width="0.15">,</tspan><tspan x="157.05" y="12.80" font-size="15" font-weight="bold" stroke-width="0.20">y</tspan><tspan x="165.04" y="8.50" font-size="9.9" font-weight="bold" stroke-width="0.10">β</tspan><tspan x="170.22" y="12.80" font-size="15" stroke-width="0.15">)</tspan><tspan x="175.42" y="12.80" font-size="15" stroke-width="0.15">)</tspan></text>
<text font-family="Liberation Serif, serif" fill="#111" stroke="#111"><tspan x="532.62" y="12.80" font-size="15" stroke-width="0.15">y</tspan><tspan x="540.34" y="17.60" font-size="8.924999999999999" stroke-width="0.08">Fe</tspan><tspan x="548.44" y="12.80" font-size="15" stroke-width="0.15">(</tspan><tspan x="554.30" y="12.80" font-size="15" stroke-width="0.15">ψ</tspan><tspan x="563.34" y="12.80" font-size="15" stroke-width="0.15">(</tspan><tspan x="567.79" y="12.80" font-size="15" font-weight="bold" stroke-width="0.20">c</tspan><tspan x="575.23" y="8.50" font-size="9.9" font-weight="bold" stroke-width="0.10">α</tspan><tspan x="580.83" y="12.80" font-size="15" stroke-width="0.15">,</tspan><tspan x="589.29" y="12.80" font-size="15" font-weight="bold" stroke-width="0.20">c</tspan><tspan x="595.84" y="8.50" font-size="9.9" font-weight="bold" stroke-width="0.10">β</tspan><tspan x="601.42" y="12.80" font-size="15" stroke-width="0.15">)</tspan><tspan x="605.72" y="12.80" font-size="15" stroke-width="0.15">)</tspan></text>
<text font-family="Liberation Serif, serif" fill="#111" stroke="#111"><tspan x="304.62" y="59.70" font-size="15" stroke-width="0.15">y</tspan><tspan x="312.34" y="64.50" font-size="8.924999999999999" stroke-width="0.08">Mn</tspan><tspan x="324.74" y="59.70" font-size="15" stroke-width="0.15">(</tspan><tspan x="330.31" y="59.70" font-size="15" stroke-width="0.15">ψ</tspan><tspan x="339.34" y="59.70" font-size="15" stroke-width="0.15">(</tspan><tspan x="344.25" y="59.70" font-size="15" font-weight="bold" stroke-width="0.20">y</tspan><tspan x="352.63" y="55.40" font-size="9.9" font-weight="bold" stroke-width="0.10">α</tspan><tspan x="358.93" y="59.70" font-size="15" stroke-width="0.15">,</tspan><tspan x="367.35" y="59.70" font-size="15" font-weight="bold" stroke-width="0.20">y</tspan><tspan x="375.44" y="55.40" font-size="9.9" font-weight="bold" stroke-width="0.10">β</tspan><tspan x="380.92" y="59.70" font-size="15" stroke-width="0.15">)</tspan><tspan x="385.32" y="59.70" font-size="15" stroke-width="0.15">)</tspan></text>
<text font-family="Liberation Serif, serif" fill="#111" stroke="#111"><tspan x="308.82" y="129.20" font-size="15" stroke-width="0.15">y</tspan><tspan x="316.44" y="134.00" font-size="8.924999999999999" stroke-width="0.08">Fe</tspan><tspan x="325.14" y="129.20" font-size="15" stroke-width="0.15">(</tspan><tspan x="330.31" y="129.20" font-size="15" stroke-width="0.15">ψ</tspan><tspan x="339.34" y="129.20" font-size="15" stroke-width="0.15">(</tspan><tspan x="344.25" y="129.20" font-size="15" font-weight="bold" stroke-width="0.20">y</tspan><tspan x="352.93" y="124.90" font-size="9.9" font-weight="bold" stroke-width="0.10">α</tspan><tspan x="359.33" y="129.20" font-size="15" stroke-width="0.15">,</tspan><tspan x="367.75" y="129.20" font-size="15" font-weight="bold" stroke-width="0.20">y</tspan><tspan x="375.74" y="124.90" font-size="9.9" font-weight="bold" stroke-width="0.10">β</tspan><tspan x="381.32" y="129.20" font-size="15" stroke-width="0.15">)</tspan><tspan x="385.32" y="129.20" font-size="15" stroke-width="0.15">)</tspan></text>
<line x1="1" y1="168.8" x2="684" y2="168.8" stroke="#dadada" stroke-width="1.2" stroke-dasharray="2.2 2.9"/>
<line x1="97.5" y1="215.5" x2="577.6" y2="215.5" stroke="#999" stroke-width="0.8" stroke-dasharray="1 1.85"/>
<line x1="97.5" y1="243.1" x2="577.6" y2="243.1" stroke="#999" stroke-width="0.8" stroke-dasharray="1 1.85"/>
<line x1="97.5" y1="270.3" x2="577.6" y2="270.3" stroke="#999" stroke-width="0.8" stroke-dasharray="1 1.85"/>
<line x1="145.5" y1="201.8" x2="145.5" y2="297.3" stroke="#999" stroke-width="0.8" stroke-dasharray="1 1.85"/>
<line x1="193.5" y1="201.8" x2="193.5" y2="297.3" stroke="#999" stroke-width="0.8" stroke-dasharray="1 1.85"/>
<line x1="241.5" y1="201.8" x2="241.5" y2="297.3" stroke="#999" stroke-width="0.8" stroke-dasharray="1 1.85"/>
<line x1="289.5" y1="201.8" x2="289.5" y2="297.3" stroke="#999" stroke-width="0.8" stroke-dasharray="1 1.85"/>
<line x1="337.6" y1="201.8" x2="337.6" y2="297.3" stroke="#999" stroke-width="0.8" stroke-dasharray="1 1.85"/>
<line x1="385.6" y1="201.8" x2="385.6" y2="297.3" stroke="#999" stroke-width="0.8" stroke-dasharray="1 1.85"/>
<line x1="433.6" y1="201.8" x2="433.6" y2="297.3" stroke="#999" stroke-width="0.8" stroke-dasharray="1 1.85"/>
<line x1="481.6" y1="201.8" x2="481.6" y2="297.3" stroke="#999" stroke-width="0.8" stroke-dasharray="1 1.85"/>
<line x1="529.6" y1="201.8" x2="529.6" y2="297.3" stroke="#999" stroke-width="0.8" stroke-dasharray="1 1.85"/>
<line x1="97.5" y1="215.5" x2="103.5" y2="215.5" stroke="#333" stroke-width="1"/>
<line x1="573.1" y1="215.5" x2="577.6" y2="215.5" stroke="#333" stroke-width="1"/>
<line x1="97.5" y1="243.1" x2="103.5" y2="243.1" stroke="#333" stroke-width="1"/>
<line x1="573.1" y1="243.1" x2="577.6" y2="243.1" stroke="#333" stroke-width="1"/>
<line x1="97.5" y1="270.3" x2="103.5" y2="270.3" stroke="#333" stroke-width="1"/>
<line x1="573.1" y1="270.3" x2="577.6" y2="270.3" stroke="#333" stroke-width="1"/>
<line x1="573.1" y1="227.2" x2="577.6" y2="227.2" stroke="#333" stroke-width="1"/>
<line x1="573.1" y1="252.9" x2="577.6" y2="252.9" stroke="#333" stroke-width="1"/>
<line x1="573.1" y1="277.4" x2="577.6" y2="277.4" stroke="#333" stroke-width="1"/>
<line x1="145.5" y1="201.8" x2="145.5" y2="207.8" stroke="#333" stroke-width="1"/>
<line x1="145.5" y1="291.3" x2="145.5" y2="297.3" stroke="#333" stroke-width="1"/>
<line x1="193.5" y1="201.8" x2="193.5" y2="207.8" stroke="#333" stroke-width="1"/>
<line x1="193.5" y1="291.3" x2="193.5" y2="297.3" stroke="#333" stroke-width="1"/>
<line x1="241.5" y1="201.8" x2="241.5" y2="207.8" stroke="#333" stroke-width="1"/>
<line x1="241.5" y1="291.3" x2="241.5" y2="297.3" stroke="#333" stroke-width="1"/>
<line x1="289.5" y1="201.8" x2="289.5" y2="207.8" stroke="#333" stroke-width="1"/>
<line x1="289.5" y1="291.3" x2="289.5" y2="297.3" stroke="#333" stroke-width="1"/>
<line x1="337.6" y1="201.8" x2="337.6" y2="207.8" stroke="#333" stroke-width="1"/>
<line x1="337.6" y1="291.3" x2="337.6" y2="297.3" stroke="#333" stroke-width="1"/>
<line x1="385.6" y1="201.8" x2="385.6" y2="207.8" stroke="#333" stroke-width="1"/>
<line x1="385.6" y1="291.3" x2="385.6" y2="297.3" stroke="#333" stroke-width="1"/>
<line x1="433.6" y1="201.8" x2="433.6" y2="207.8" stroke="#333" stroke-width="1"/>
<line x1="433.6" y1="291.3" x2="433.6" y2="297.3" stroke="#333" stroke-width="1"/>
<line x1="481.6" y1="201.8" x2="481.6" y2="207.8" stroke="#333" stroke-width="1"/>
<line x1="481.6" y1="291.3" x2="481.6" y2="297.3" stroke="#333" stroke-width="1"/>
<line x1="529.6" y1="201.8" x2="529.6" y2="207.8" stroke="#333" stroke-width="1"/>
<line x1="529.6" y1="291.3" x2="529.6" y2="297.3" stroke="#333" stroke-width="1"/>
<path d="M171.00,208.90 C171.17,209.47 171.53,211.13 172.00,212.30 C172.47,213.47 173.20,214.40 173.80,215.90 C174.40,217.40 174.93,219.82 175.60,221.30 C176.27,222.78 177.07,224.40 177.80,224.80 C178.53,225.20 179.17,224.12 180.00,223.70 C180.83,223.28 181.70,222.78 182.80,222.30 C183.90,221.82 185.13,221.38 186.60,220.80 C188.07,220.22 190.13,219.33 191.60,218.80 C193.07,218.27 193.80,217.97 195.40,217.60 C197.00,217.23 199.65,216.87 201.20,216.60 C202.75,216.33 203.15,216.22 204.70,216.00 C206.25,215.78 208.95,215.48 210.50,215.30 C212.05,215.12 212.43,215.05 214.00,214.90 C215.57,214.75 218.33,214.52 219.90,214.40 C221.47,214.28 221.85,214.27 223.40,214.20 C224.95,214.13 227.65,214.05 229.20,214.00 C230.75,213.95 231.23,213.95 232.70,213.90 C234.17,213.85 236.45,213.77 238.00,213.70 C239.55,213.63 238.33,213.53 242.00,213.50 C245.67,213.47 250.33,213.50 260.00,213.50 C269.67,213.50 247.55,213.50 300.00,213.50 C352.45,213.50 528.92,213.50 574.70,213.50" fill="none" stroke="#ee2020" stroke-width="1.35" stroke-dasharray="4 5.5" stroke-dashoffset="2.3"/>
<path d="M322.60,208.90 C322.75,209.25 322.98,209.65 323.50,211.00 C324.02,212.35 325.10,214.35 325.70,217.00 C326.30,219.65 326.63,223.38 327.10,226.90 C327.57,230.42 328.03,234.98 328.50,238.10 C328.97,241.22 329.32,244.02 329.90,245.60 C330.48,247.18 331.23,247.65 332.00,247.60 C332.77,247.55 333.57,246.18 334.50,245.30 C335.43,244.42 335.90,243.73 337.60,242.30 C339.30,240.87 342.12,238.57 344.70,236.70 C347.28,234.83 350.30,232.85 353.10,231.10 C355.90,229.35 358.68,227.57 361.50,226.20 C364.32,224.83 367.18,223.85 370.00,222.90 C372.82,221.95 375.37,221.25 378.40,220.50 C381.43,219.75 384.93,218.98 388.20,218.40 C391.47,217.82 394.45,217.50 398.00,217.00 C401.55,216.50 405.55,215.85 409.50,215.40 C413.45,214.95 417.62,214.57 421.70,214.30 C425.78,214.03 429.28,213.92 434.00,213.80 C438.72,213.68 442.33,213.65 450.00,213.60 C457.67,213.55 459.22,213.52 480.00,213.50 C500.78,213.48 558.92,213.50 574.70,213.50" fill="none" stroke="#ee2020" stroke-width="1.35" stroke-dasharray="4 5.5" stroke-dashoffset="3.9"/>
<path d="M467.50,208.90 C467.62,209.47 467.87,209.62 468.20,212.30 C468.53,214.98 469.07,220.57 469.50,225.00 C469.93,229.43 470.30,234.40 470.80,238.90 C471.30,243.40 471.92,248.55 472.50,252.00 C473.08,255.45 473.63,258.50 474.30,259.60 C474.97,260.70 475.25,259.53 476.50,258.60 C477.75,257.67 479.42,255.97 481.80,254.00 C484.18,252.03 488.27,248.83 490.80,246.80 C493.33,244.77 494.62,243.40 497.00,241.80 C499.38,240.20 502.72,238.47 505.10,237.20 C507.48,235.93 509.32,235.17 511.30,234.20 C513.28,233.23 514.60,232.47 517.00,231.40 C519.40,230.33 523.67,228.60 525.70,227.80 C527.73,227.00 526.98,227.37 529.20,226.60 C531.42,225.83 535.48,224.07 539.00,223.20 C542.52,222.33 546.78,221.82 550.30,221.40 C553.82,220.98 556.08,220.92 560.10,220.70 C564.12,220.48 572.02,220.20 574.40,220.10" fill="none" stroke="#ee2020" stroke-width="1.35" stroke-dasharray="4 5.5" stroke-dashoffset="6.0"/>
<path d="M537.60,208.90 C537.68,209.17 537.72,208.70 538.10,210.50 C538.48,212.30 539.38,216.77 539.90,219.70 C540.42,222.63 540.80,224.60 541.20,228.10 C541.60,231.60 541.97,237.05 542.30,240.70 C542.63,244.35 542.92,246.58 543.20,250.00 C543.48,253.42 543.75,257.68 544.00,261.20 C544.25,264.72 544.40,267.58 544.70,271.10 C545.00,274.62 545.37,279.10 545.80,282.30 C546.23,285.50 546.70,288.55 547.30,290.30 C547.90,292.05 548.62,292.32 549.40,292.80 C550.18,293.28 547.78,293.13 552.00,293.20 C556.22,293.27 570.92,293.20 574.70,293.20" fill="none" stroke="#ee2020" stroke-width="1.35" stroke-dasharray="4 5.5" stroke-dashoffset="2.8"/>
<line x1="99" y1="208.85" x2="574.7" y2="208.85" stroke="#2a04d0" stroke-width="2.0"/>
<line x1="99" y1="207.35" x2="574.7" y2="207.35" stroke="#f03838" stroke-opacity="0.9" stroke-width="1.0"/>
<path d="M99.00,296.80 C110.17,296.80 154.23,296.82 166.00,296.80 C177.77,296.78 168.73,296.90 169.60,296.70 C170.47,296.50 170.70,296.13 171.20,295.60 C171.70,295.07 172.10,294.80 172.60,293.50 C173.10,292.20 173.67,289.70 174.20,287.80 C174.73,285.90 175.25,283.35 175.80,282.10 C176.35,280.85 176.77,280.43 177.50,280.30 C178.23,280.17 178.97,280.73 180.20,281.30 C181.43,281.87 182.77,282.80 184.90,283.70 C187.03,284.60 190.08,285.82 193.00,286.70 C195.92,287.58 199.28,288.37 202.40,289.00 C205.52,289.63 208.20,290.10 211.70,290.50 C215.20,290.90 219.52,291.18 223.40,291.40 C227.28,291.62 228.90,291.73 235.00,291.80 C241.10,291.87 203.38,291.80 260.00,291.80 C316.62,291.80 522.25,291.80 574.70,291.80" fill="none" stroke="#111" stroke-width="1.7" stroke-linejoin="round"/>
<path d="M99.00,296.80 C135.67,296.80 281.82,296.83 319.00,296.80 C356.18,296.77 321.32,296.82 322.10,296.60 C322.88,296.38 323.22,296.05 323.70,295.50 C324.18,294.95 324.55,295.03 325.00,293.30 C325.45,291.57 325.93,288.33 326.40,285.10 C326.87,281.87 327.35,277.58 327.80,273.90 C328.25,270.22 328.67,265.73 329.10,263.00 C329.53,260.27 329.97,258.68 330.40,257.50 C330.83,256.32 331.20,256.05 331.70,255.90 C332.20,255.75 332.42,255.87 333.40,256.60 C334.38,257.33 335.95,258.83 337.60,260.30 C339.25,261.77 341.18,263.60 343.30,265.40 C345.42,267.20 347.50,269.22 350.30,271.10 C353.10,272.98 356.60,274.95 360.10,276.70 C363.60,278.45 367.55,280.20 371.30,281.60 C375.05,283.00 378.15,284.02 382.60,285.10 C387.05,286.18 393.27,287.30 398.00,288.10 C402.73,288.90 405.17,289.37 411.00,289.90 C416.83,290.43 424.83,290.98 433.00,291.30 C441.17,291.62 448.83,291.72 460.00,291.80 C471.17,291.88 480.88,291.80 500.00,291.80 C519.12,291.80 562.25,291.80 574.70,291.80" fill="none" stroke="#111" stroke-width="1.7" stroke-linejoin="round"/>
<path d="M99.00,296.80 C159.50,296.80 400.95,296.85 462.00,296.80 C523.05,296.75 464.52,296.80 465.30,296.50 C466.08,296.20 466.20,296.40 466.70,295.00 C467.20,293.60 467.73,291.93 468.30,288.10 C468.87,284.27 469.50,277.60 470.10,272.00 C470.70,266.40 471.40,258.83 471.90,254.50 C472.40,250.17 472.60,247.95 473.10,246.00 C473.60,244.05 474.05,243.07 474.90,242.80 C475.75,242.53 476.75,243.17 478.20,244.40 C479.65,245.63 481.50,248.00 483.60,250.20 C485.70,252.40 488.10,255.17 490.80,257.60 C493.50,260.03 496.52,262.55 499.80,264.80 C503.08,267.05 506.62,269.17 510.50,271.10 C514.38,273.03 519.20,275.05 523.10,276.40 C527.00,277.75 530.75,278.47 533.90,279.20 C537.05,279.93 538.80,280.25 542.00,280.80 C545.20,281.35 549.38,282.03 553.10,282.50 C556.82,282.97 560.75,283.33 564.30,283.60 C567.85,283.87 572.72,284.02 574.40,284.10" fill="none" stroke="#111" stroke-width="1.7" stroke-linejoin="round"/>
<path d="M99.00,296.80 C171.33,296.80 460.10,296.83 533.00,296.80 C605.90,296.77 535.52,296.83 536.40,296.60 C537.28,296.37 537.78,295.97 538.30,295.40 C538.82,294.83 539.20,293.98 539.50,293.20 C539.80,292.42 539.90,292.52 540.10,290.70 C540.30,288.88 540.45,285.57 540.70,282.30 C540.95,279.03 541.28,275.08 541.60,271.10 C541.92,267.12 542.32,261.92 542.60,258.40 C542.88,254.88 543.00,253.88 543.30,250.00 C543.60,246.12 544.05,239.92 544.40,235.10 C544.75,230.28 545.13,224.53 545.40,221.10 C545.67,217.67 545.80,216.32 546.00,214.50 C546.20,212.68 546.37,211.33 546.60,210.20 C546.83,209.07 547.07,208.27 547.40,207.70 C547.73,207.13 548.08,207.00 548.60,206.80 C549.12,206.60 546.20,206.55 550.50,206.50 C554.80,206.45 570.42,206.50 574.40,206.50" fill="none" stroke="#111" stroke-width="1.7" stroke-linejoin="round"/>
<rect x="97.5" y="201.8" width="480.1" height="95.5" fill="none" stroke="#222" stroke-width="1.3"/>
<text transform="translate(168.3,293.5) rotate(-76)" font-family="Liberation Serif, serif" font-size="11.4" font-style="italic" fill="#111" stroke="#111" stroke-width="0.25">t = 2</text>
<text transform="translate(320.6,286.7) rotate(-77)" font-family="Liberation Serif, serif" font-size="11.4" font-style="italic" fill="#111" stroke="#111" stroke-width="0.25">t = 10</text>
<text transform="translate(460.9,281.0) rotate(-80)" font-family="Liberation Serif, serif" font-size="11.4" font-style="italic" fill="#111" stroke="#111" stroke-width="0.25">t = 20</text>
<text transform="translate(538.3,262.7) rotate(-88)" font-family="Liberation Serif, serif" font-size="11.4" font-style="italic" fill="#111" stroke="#111" stroke-width="0.25">t = 40</text>
<text x="100.2" y="323.4" font-family="Liberation Sans, sans-serif" font-size="19" text-anchor="middle" fill="#111">0</text>
<text x="148.2" y="323.4" font-family="Liberation Sans, sans-serif" font-size="19" text-anchor="middle" fill="#111">30</text>
<text x="196.2" y="323.4" font-family="Liberation Sans, sans-serif" font-size="19" text-anchor="middle" fill="#111">60</text>
<text x="244.2" y="323.4" font-family="Liberation Sans, sans-serif" font-size="19" text-anchor="middle" fill="#111">90</text>
<text x="292.2" y="323.4" font-family="Liberation Sans, sans-serif" font-size="19" text-anchor="middle" fill="#111">120</text>
<text x="340.2" y="323.4" font-family="Liberation Sans, sans-serif" font-size="19" text-anchor="middle" fill="#111">150</text>
<text x="388.3" y="323.4" font-family="Liberation Sans, sans-serif" font-size="19" text-anchor="middle" fill="#111">180</text>
<text x="436.3" y="323.4" font-family="Liberation Sans, sans-serif" font-size="19" text-anchor="middle" fill="#111">210</text>
<text x="484.3" y="323.4" font-family="Liberation Sans, sans-serif" font-size="19" text-anchor="middle" fill="#111">240</text>
<text x="532.3" y="323.4" font-family="Liberation Sans, sans-serif" font-size="19" text-anchor="middle" fill="#111">270</text>
<text x="580.3" y="323.4" font-family="Liberation Sans, sans-serif" font-size="19" text-anchor="middle" fill="#111">300</text>
<text x="85.3" y="222.4" font-family="Liberation Sans, sans-serif" font-size="19" text-anchor="end" fill="#111">0.12</text>
<text x="85.3" y="250.0" font-family="Liberation Sans, sans-serif" font-size="19" text-anchor="end" fill="#111">0.08</text>
<text x="85.3" y="277.2" font-family="Liberation Sans, sans-serif" font-size="19" text-anchor="end" fill="#111">0.04</text>
<text x="85.3" y="304.2" font-family="Liberation Sans, sans-serif" font-size="19" text-anchor="end" fill="#111">0</text>
<text x="594.2" y="207.9" font-family="Liberation Sans, sans-serif" font-size="19" fill="#111">0.88</text>
<text x="594.2" y="233.5" font-family="Liberation Sans, sans-serif" font-size="19" fill="#111">0.84</text>
<text x="594.2" y="259.2" font-family="Liberation Sans, sans-serif" font-size="19" fill="#111">0.8</text>
<text x="594.2" y="284.5" font-family="Liberation Sans, sans-serif" font-size="19" fill="#111">0.76</text>
<text transform="translate(17.3,260.6) rotate(-90)" font-family="Liberation Serif, serif" font-size="20" letter-spacing="1.15" text-anchor="middle" fill="#111" stroke="#111" stroke-width="0.25">Carbon</text>
<text transform="translate(40.6,257.9) rotate(-90)" font-family="Liberation Serif, serif" font-size="20" letter-spacing="0.75" text-anchor="middle" fill="#111" stroke="#111" stroke-width="0.25">site-fraction</text>
<text transform="translate(641,248.5) rotate(90)" font-family="Liberation Serif, serif" font-size="20" letter-spacing="0.75" text-anchor="middle" fill="#111" stroke="#111" stroke-width="0.25">site-fraction</text>
<text transform="translate(665.5,245.3) rotate(90)" font-family="Liberation Serif, serif" font-size="20" letter-spacing="1.0" text-anchor="middle" fill="#111" stroke="#111" stroke-width="0.25">Iron</text>
<text y="349.5" font-family="Liberation Serif, serif" font-size="19" fill="#111" stroke="#111" stroke-width="0.25"><tspan x="216.3" letter-spacing="0.95">1D – </tspan><tspan x="263.3" letter-spacing="1.25">representation</tspan><tspan x="391.8" letter-spacing="0.5">(x 10</tspan><tspan x="433.8" font-size="10" dy="-7.4">-2</tspan><tspan x="447.3" dy="7.4" letter-spacing="0.3">μm)</tspan></text>
<line x1="95" y1="188.5" x2="119.7" y2="188.5" stroke="#111" stroke-width="1.4"/>
<text font-family="Liberation Serif, serif" fill="#111" stroke="#111"><tspan x="127.15" y="190.30" font-size="12.4" stroke-width="0.15">y</tspan><tspan x="133.72" y="194.27" font-size="7.378" stroke-width="0.08">C</tspan><tspan x="138.29" y="190.30" font-size="12.4" stroke-width="0.15">(</tspan><tspan x="142.33" y="190.30" font-size="12.4" stroke-width="0.15">ψ</tspan><tspan x="150.74" y="190.30" font-size="12.4" stroke-width="0.15">(</tspan><tspan x="155.15" y="190.30" font-size="12.4" font-weight="bold" stroke-width="0.20">y</tspan><tspan x="161.61" y="186.75" font-size="8.184000000000001" font-weight="bold" stroke-width="0.10">α</tspan><tspan x="166.92" y="190.30" font-size="12.4" stroke-width="0.15">,</tspan><tspan x="173.91" y="190.30" font-size="12.4" font-weight="bold" stroke-width="0.20">y</tspan><tspan x="180.53" y="186.75" font-size="8.184000000000001" font-weight="bold" stroke-width="0.10">β</tspan><tspan x="184.84" y="190.30" font-size="12.4" stroke-width="0.15">)</tspan><tspan x="189.15" y="190.30" font-size="12.4" stroke-width="0.15">)</tspan></text>
<line x1="221.9" y1="188.5" x2="247.4" y2="188.5" stroke="#ee1111" stroke-width="1.3"/>
<text font-family="Liberation Serif, serif" fill="#111" stroke="#111"><tspan x="253.65" y="190.30" font-size="12.4" stroke-width="0.15">y</tspan><tspan x="259.98" y="194.27" font-size="7.378" stroke-width="0.08">Fe</tspan><tspan x="267.20" y="190.30" font-size="12.4" stroke-width="0.15">(</tspan><tspan x="271.48" y="190.30" font-size="12.4" stroke-width="0.15">ψ</tspan><tspan x="278.98" y="190.30" font-size="12.4" stroke-width="0.15">(</tspan><tspan x="283.06" y="190.30" font-size="12.4" font-weight="bold" stroke-width="0.20">y</tspan><tspan x="290.27" y="186.75" font-size="8.184000000000001" font-weight="bold" stroke-width="0.10">α</tspan><tspan x="295.58" y="190.30" font-size="12.4" stroke-width="0.15">,</tspan><tspan x="302.56" y="190.30" font-size="12.4" font-weight="bold" stroke-width="0.20">y</tspan><tspan x="309.19" y="186.75" font-size="8.184000000000001" font-weight="bold" stroke-width="0.10">β</tspan><tspan x="313.83" y="190.30" font-size="12.4" stroke-width="0.15">)</tspan><tspan x="317.15" y="190.30" font-size="12.4" stroke-width="0.15">)</tspan></text>
<line x1="348.7" y1="188.5" x2="373.7" y2="188.5" stroke="#1010f0" stroke-width="1.3"/>
<text font-family="Liberation Serif, serif" fill="#111" stroke="#111"><tspan x="378.65" y="190.30" font-size="12.4" stroke-width="0.15">y</tspan><tspan x="385.06" y="194.27" font-size="7.378" stroke-width="0.08">Mn</tspan><tspan x="395.35" y="190.30" font-size="12.4" stroke-width="0.15">(</tspan><tspan x="399.97" y="190.30" font-size="12.4" stroke-width="0.15">ψ</tspan><tspan x="407.47" y="190.30" font-size="12.4" stroke-width="0.15">(</tspan><tspan x="411.54" y="190.30" font-size="12.4" font-weight="bold" stroke-width="0.20">y</tspan><tspan x="418.50" y="186.75" font-size="8.184000000000001" font-weight="bold" stroke-width="0.10">α</tspan><tspan x="423.73" y="190.30" font-size="12.4" stroke-width="0.15">,</tspan><tspan x="430.72" y="190.30" font-size="12.4" font-weight="bold" stroke-width="0.20">y</tspan><tspan x="437.43" y="186.75" font-size="8.184000000000001" font-weight="bold" stroke-width="0.10">β</tspan><tspan x="441.98" y="190.30" font-size="12.4" stroke-width="0.15">)</tspan><tspan x="445.63" y="190.30" font-size="12.4" stroke-width="0.15">)</tspan></text>
<line x1="481" y1="188.5" x2="504.7" y2="188.5" stroke="#ee2222" stroke-width="1.3" stroke-dasharray="2.8 2.4"/>
<text font-family="Liberation Serif, serif" fill="#111" stroke="#111"><tspan x="510.95" y="190.30" font-size="12.4" stroke-width="0.15">y</tspan><tspan x="517.36" y="194.27" font-size="7.378" stroke-width="0.08">Fe</tspan><tspan x="524.08" y="190.30" font-size="12.4" stroke-width="0.15">(</tspan><tspan x="528.95" y="190.30" font-size="12.4" stroke-width="0.15">ψ</tspan><tspan x="536.45" y="190.30" font-size="12.4" stroke-width="0.15">(</tspan><tspan x="540.14" y="190.30" font-size="12.4" font-weight="bold" stroke-width="0.20">c</tspan><tspan x="546.32" y="186.75" font-size="8.184000000000001" font-weight="bold" stroke-width="0.10">α</tspan><tspan x="550.97" y="190.30" font-size="12.4" stroke-width="0.15">,</tspan><tspan x="557.99" y="190.30" font-size="12.4" font-weight="bold" stroke-width="0.20">c</tspan><tspan x="563.42" y="186.75" font-size="8.184000000000001" font-weight="bold" stroke-width="0.10">β</tspan><tspan x="568.06" y="190.30" font-size="12.4" stroke-width="0.15">)</tspan><tspan x="571.63" y="190.30" font-size="12.4" stroke-width="0.15">)</tspan></text>
</svg>
</body></html>
